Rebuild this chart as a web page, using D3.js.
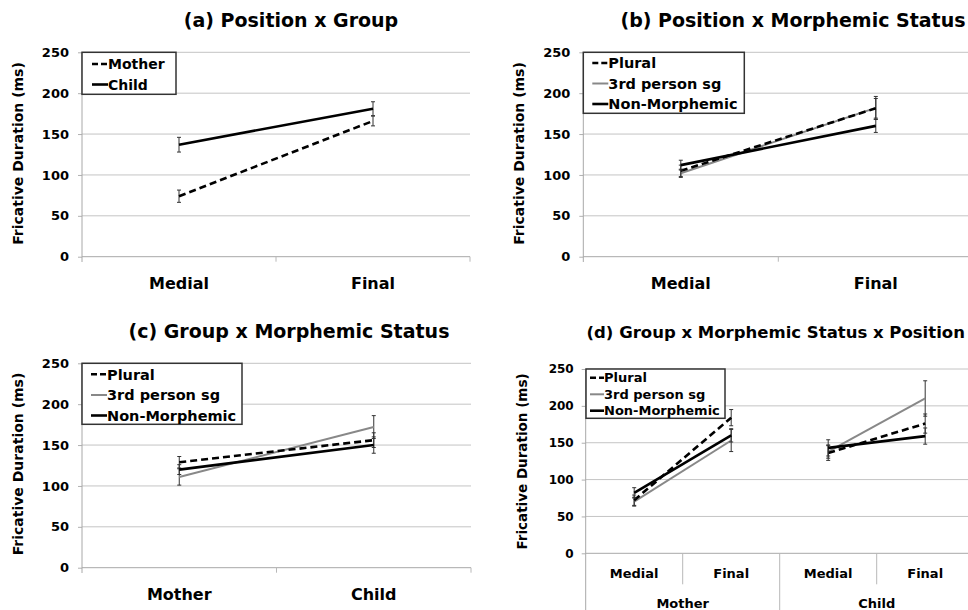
<!DOCTYPE html>
<html>
<head>
<meta charset="utf-8">
<script src="https://cdn.jsdelivr.net/npm/d3@7"></script>
<style>
  body { margin: 0; background: #fff; }
  svg { display: block; font-family: "DejaVu Sans", Verdana, sans-serif; font-weight: bold; }
</style>
</head>
<body>
<svg id="chart" width="968" height="610"></svg>
<script>
// ---- data -------------------------------------------------------------
const positions = ["Medial", "Final"];
const groups = ["Mother", "Child"];
const statuses = ["Plural", "3rd person sg", "Non-Morphemic"];
const yTicks = [0, 50, 100, 150, 200, 250];

// (a) Position x Group: means and error half-widths (ms), per position
const aMother = [74, 166];
const aMotherErr = [7.5, 6];
const aChild = [137, 181];
const aChildErr = [9, 8.5];

// (b) Position x Morphemic Status, per position
const bPlural = [105, 181.5];
const bPluralErr = [7, 12];
const b3rd = [102, 182];
const b3rdErr = [5, 14];
const bNonMorph = [112, 160];
const bNonMorphErr = [6, 8];

// (c) Group x Morphemic Status, per group
const cPlural = [129, 156];
const cPluralErr = [7, 9];
const c3rd = [111, 172];
const c3rdErr = [10, 14];
const cNonMorph = [120, 150];
const cNonMorphErr = [6, 10];

// (d) Group x Morphemic Status x Position:
// Mother-Medial, Mother-Final, Child-Medial, Child-Final
const dPlural = [72, 184, 136, 176];
const dPluralErr = [7, 11, 10, 13];
const d3rd = [70, 153, 138, 210];
const d3rdErr = [6, 15, 9, 24];
const dNonMorph = [82, 160, 143, 159];
const dNonMorphErr = [7, 9, 11, 11];

// ---- styles -----------------------------------------------------------
const lineStyle = {
  "Mother":        { stroke: "#000", width: 2.6, dash: "7,4" },
  "Child":         { stroke: "#000", width: 2.6, dash: null },
  "Plural":        { stroke: "#000", width: 2.6, dash: "7,4" },
  "3rd person sg": { stroke: "#888", width: 2,   dash: null },
  "Non-Morphemic": { stroke: "#000", width: 2.6, dash: null }
};

const svg = d3.select("#chart");

function drawPanel(p) {
  const g = svg.append("g");
  const x = d3.scaleBand().domain(p.categories).range([p.left, p.right]).padding(0);
  const y = d3.scaleLinear().domain([0, 250]).range([p.bottom, p.top]);
  const cx = c => x(c) + x.bandwidth() / 2;

  // horizontal gridlines
  g.append("g").selectAll("line").data(yTicks.filter(t => t > 0)).join("line")
    .attr("x1", p.left).attr("x2", p.right)
    .attr("y1", d => y(d)).attr("y2", d => y(d))
    .attr("stroke", "#c4c4c4").attr("stroke-width", 1);

  // y axis
  const yAxis = g.append("g").attr("transform", `translate(${p.left},0)`)
    .call(d3.axisLeft(y).tickValues(yTicks).tickSizeInner(4).tickSizeOuter(0).tickPadding(p.tickPad));
  yAxis.select(".domain").remove();
  yAxis.selectAll(".tick line").attr("stroke", "#b0b0b0");
  yAxis.selectAll("text").attr("font-size", p.tickSize).attr("font-weight", "bold")
    .attr("font-family", "DejaVu Sans, Verdana, sans-serif").attr("fill", "#000");
  g.append("line").attr("x1", p.left).attr("x2", p.left)
    .attr("y1", p.top).attr("y2", p.axisDown)
    .attr("stroke", "#a8a8a8").attr("stroke-width", 1);

  // x axis baseline and category boundaries
  g.append("line").attr("x1", p.left).attr("x2", p.right)
    .attr("y1", y(0)).attr("y2", y(0)).attr("stroke", "#a8a8a8").attr("stroke-width", 1);
  p.categories.forEach((c, i) => {
    const bx = x(c) + x.bandwidth();
    const full = p.fullBoundaries && p.fullBoundaries.includes(i);
    g.append("line").attr("x1", bx).attr("x2", bx)
      .attr("y1", y(0)).attr("y2", full ? p.axisDown : y(0) + p.catTick)
      .attr("stroke", "#b8b8b8").attr("stroke-width", 1);
  });

  // category labels
  g.append("g").selectAll("text").data(p.categories).join("text")
    .attr("x", cx).attr("y", p.catY + p.catSize * 0.365)
    .attr("text-anchor", "middle").attr("font-size", p.catSize)
    .text(d => p.catLabel ? p.catLabel(d) : d);

  if (p.groupLabels) {
    const gx = d3.scaleBand().domain(groups).range([p.left, p.right]);
    g.append("g").selectAll("text").data(groups).join("text")
      .attr("x", d => gx(d) + gx.bandwidth() / 2).attr("y", p.groupY + p.catSize * 0.365)
      .attr("text-anchor", "middle").attr("font-size", p.catSize)
      .text(d => d);
  }

  // title
  g.append("text").attr("x", p.titleX).attr("y", p.titleY)
    .attr("text-anchor", "middle").attr("font-size", p.titleSize).text(p.title);

  // y axis title
  g.append("text")
    .attr("transform", `translate(${p.yTitleX},${p.yTitleCY}) rotate(-90)`)
    .attr("text-anchor", "middle").attr("dy", "0.36em")
    .attr("font-size", p.yTitleSize).text("Fricative Duration (ms)");

  // series: line segments + error bars
  const order = [...p.series].sort((a, b) => (a.name === "3rd person sg" ? -1 : 0) - (b.name === "3rd person sg" ? -1 : 0));
  order.forEach(s => {
    const st = lineStyle[s.name];
    const pts = p.categories.map((c, i) => ({ c, v: s.values[i], e: s.errs[i] }));
    // error bars
    const eb = g.append("g").attr("stroke", "#333").attr("stroke-width", 1);
    pts.forEach(d => {
      const X = cx(d.c);
      eb.append("line").attr("x1", X).attr("x2", X).attr("y1", y(d.v - d.e)).attr("y2", y(d.v + d.e));
      eb.append("line").attr("x1", X - 2).attr("x2", X + 2).attr("y1", y(d.v - d.e)).attr("y2", y(d.v - d.e));
      eb.append("line").attr("x1", X - 2).attr("x2", X + 2).attr("y1", y(d.v + d.e)).attr("y2", y(d.v + d.e));
    });
    const line = d3.line().x(d => cx(d.c)).y(d => y(d.v));
    const segs = p.segments ? p.segments.map(ix => ix.map(i => pts[i])) : [pts];
    segs.forEach(seg => {
      g.append("path").datum(seg).attr("d", line)
        .attr("fill", "none").attr("stroke", st.stroke).attr("stroke-width", st.width)
        .attr("stroke-dasharray", st.dash);
    });
  });

  // legend
  const L = p.legend;
  const lg = g.append("g");
  lg.append("rect").attr("x", L.x).attr("y", L.y).attr("width", L.w).attr("height", L.h)
    .attr("fill", "#fff").attr("stroke", "#333").attr("stroke-width", 1.5);
  p.series.forEach((s, i) => {
    const st = lineStyle[s.name];
    const ry = L.rows[i];
    lg.append("line").attr("x1", L.x + L.s0).attr("x2", L.x + L.s1).attr("y1", ry).attr("y2", ry)
      .attr("stroke", st.stroke).attr("stroke-width", st.width)
      .attr("stroke-dasharray", st.dash ? "6,3" : null);
    lg.append("text").attr("x", L.x + L.tx).attr("y", ry + L.size * 0.365)
      .attr("font-size", L.size).text(s.name);
  });
}

// (a)
drawPanel({
  title: "(a) Position x Group", titleX: 291, titleY: 26.5, titleSize: 19,
  left: 82, right: 470, top: 52.3, bottom: 256.7, axisDown: 262, catTick: 5,
  categories: positions, catY: 283, catSize: 16,
  tickSize: 13, tickPad: 9,
  yTitleX: 18, yTitleCY: 153.5, yTitleSize: 14,
  series: [
    { name: "Mother", values: aMother, errs: aMotherErr },
    { name: "Child", values: aChild, errs: aChildErr }
  ],
  legend: { x: 82, y: 52.3, w: 94, h: 42, rows: [64, 84.5], s0: 10, s1: 26, tx: 26, size: 14 }
});

// (b)
drawPanel({
  title: "(b) Position x Morphemic Status", titleX: 793, titleY: 26.5, titleSize: 19,
  left: 583.3, right: 973.3, top: 52.3, bottom: 256.7, axisDown: 262, catTick: 5,
  categories: positions, catY: 283, catSize: 16,
  tickSize: 13, tickPad: 9,
  yTitleX: 519, yTitleCY: 153.5, yTitleSize: 14,
  series: [
    { name: "Plural", values: bPlural, errs: bPluralErr },
    { name: "3rd person sg", values: b3rd, errs: b3rdErr },
    { name: "Non-Morphemic", values: bNonMorph, errs: bNonMorphErr }
  ],
  legend: { x: 583.3, y: 52.3, w: 161, h: 61, rows: [63, 83.5, 104], s0: 9, s1: 25, tx: 25, size: 14.5 }
});

// (c)
drawPanel({
  title: "(c) Group x Morphemic Status", titleX: 289, titleY: 337.5, titleSize: 19,
  left: 82, right: 471, top: 363.3, bottom: 567.7, axisDown: 573, catTick: 5,
  categories: groups, catY: 594, catSize: 16,
  tickSize: 13, tickPad: 9,
  yTitleX: 18, yTitleCY: 464, yTitleSize: 14,
  series: [
    { name: "Plural", values: cPlural, errs: cPluralErr },
    { name: "3rd person sg", values: c3rd, errs: c3rdErr },
    { name: "Non-Morphemic", values: cNonMorph, errs: cNonMorphErr }
  ],
  legend: { x: 82, y: 363.3, w: 160, h: 61, rows: [374.3, 395, 415.5], s0: 9, s1: 25, tx: 25, size: 14.5 }
});

// (d)
const dCats = groups.flatMap(gr => positions.map(pos => gr + "|" + pos));
drawPanel({
  title: "(d) Group x Morphemic Status x Position", titleX: 775.7, titleY: 337.5, titleSize: 16.5,
  left: 585.7, right: 973.7, top: 369, bottom: 553.3, axisDown: 610, catTick: 31,
  categories: dCats, catY: 573.3, catSize: 13, catLabel: d => d.split("|")[1],
  fullBoundaries: [1],
  groupLabels: true, groupY: 603,
  tickSize: 12, tickPad: 8,
  yTitleX: 522.3, yTitleCY: 461.5, yTitleSize: 13.5,
  segments: [[0, 1], [2, 3]],
  series: [
    { name: "Plural", values: dPlural, errs: dPluralErr },
    { name: "3rd person sg", values: d3rd, errs: d3rdErr },
    { name: "Non-Morphemic", values: dNonMorph, errs: dNonMorphErr }
  ],
  legend: { x: 586, y: 369, w: 139, h: 49.3, rows: [377.7, 394.3, 410.7], s0: 4, s1: 18, tx: 18, size: 13 }
});
</script>
</body>
</html>
